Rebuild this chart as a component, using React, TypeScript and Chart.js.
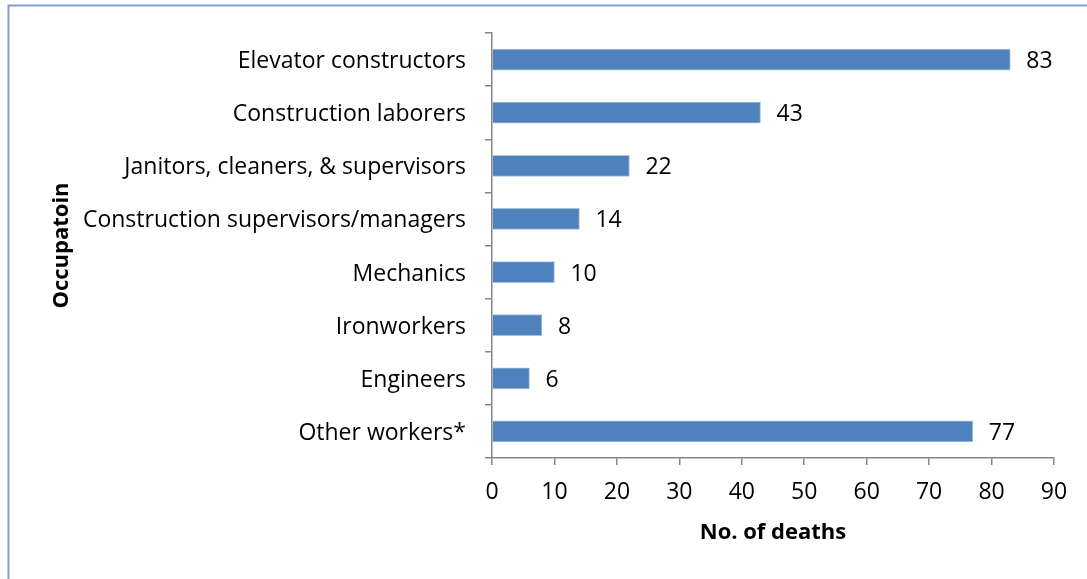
import React, { useEffect, useRef } from "react";
import { Chart, registerables } from "chart.js";

Chart.register(...registerables);

const categories = [
  "Elevator constructors",
  "Construction laborers",
  "Janitors, cleaners, & supervisors",
  "Construction supervisors/managers",
  "Mechanics",
  "Ironworkers",
  "Engineers",
  "Other workers*",
];
const deaths = [83, 43, 22, 14, 10, 8, 6, 77];
const xTicks = [0, 10, 20, 30, 40, 50, 60, 70, 80, 90];

const FONT = "'Open Sans', Lato, sans-serif";
const FS = 23;

export default function App() {
  const ref = useRef<HTMLCanvasElement>(null);
  useEffect(() => {
    const canvas = ref.current!;
    const borderPlugin = {
      id: "frame",
      beforeDraw(chart: any) {
        const ctx = chart.ctx;
        ctx.save();
        ctx.fillStyle = "#ffffff";
        ctx.fillRect(0, 0, chart.width, chart.height);
        ctx.strokeStyle = "#7f9fd0";
        ctx.lineWidth = 2;
        ctx.strokeRect(8.5, 5.5, 1200, 1000);
        ctx.restore();
      },
    };
    const labelPlugin = {
      id: "valueLabels",
      afterDatasetsDraw(chart: any) {
        const ctx = chart.ctx;
        const meta = chart.getDatasetMeta(0);
        ctx.save();
        ctx.font = `${FS}px ${FONT}`;
        ctx.fillStyle = "#000000";
        ctx.textAlign = "left";
        ctx.textBaseline = "middle";
        meta.data.forEach((bar: any, i: number) => {
          ctx.fillText(String(deaths[i]), bar.x + 16, bar.y + 2);
        });
        ctx.restore();
      },
    };
    const chart = new Chart(canvas, {
      type: "bar",
      data: {
        labels: categories,
        datasets: [
          {
            data: deaths,
            backgroundColor: "#4f81bd",
            borderColor: "#a8c0e0",
            borderWidth: 1,
            barThickness: 21,
          },
        ],
      },
      options: {
        indexAxis: "y",
        animation: false,
        responsive: false,
        maintainAspectRatio: false,
        layout: { padding: { left: 0, top: 33, right: 33, bottom: 0 } },
        plugins: { legend: { display: false }, tooltip: { enabled: false } },
        scales: {
          x: {
            min: 0,
            max: 90,
            afterBuildTicks: (s: any) => {
              s.ticks = xTicks.map((v) => ({ value: v }));
            },
            afterFit: (s: any) => {
              s.height = 121;
            },
            border: { color: "#868686", width: 1.5 },
            grid: {
              drawOnChartArea: false,
              drawTicks: true,
              tickLength: 7,
              color: "#868686",
              lineWidth: 1.5,
            },
            ticks: {
              font: { family: FONT, size: FS },
              color: "#000000",
              padding: 14,
              maxRotation: 0,
            },
            title: {
              display: true,
              text: "No. of deaths",
              font: { family: FONT, size: 22, weight: "bold" },
              color: "#000000",
              padding: { top: 0, bottom: 33 },
            },
          },
          y: {
            afterFit: (s: any) => {
              s.width = 492;
            },
            border: { color: "#868686", width: 1.5 },
            grid: {
              drawOnChartArea: false,
              drawTicks: true,
              tickLength: 7,
              color: "#868686",
              lineWidth: 1.5,
              offset: true,
            },
            ticks: {
              font: { family: FONT, size: FS },
              color: "#000000",
              padding: 19,
              autoSkip: false,
              labelOffset: 2,
            },
            title: {
              display: true,
              text: "Occupatoin",
              font: { family: FONT, size: 22, weight: "bold" },
              color: "#000000",
              padding: { top: 49, bottom: 0 },
            },
          },
        },
      },
      plugins: [borderPlugin, labelPlugin],
    });
    return () => chart.destroy();
  }, []);
  return (
    <div style={{ position: "fixed", left: 0, top: 0, width: 1087, height: 579 }}>
      <canvas ref={ref} width={1087} height={579} style={{ width: 1087, height: 579 }} />
    </div>
  );
}
